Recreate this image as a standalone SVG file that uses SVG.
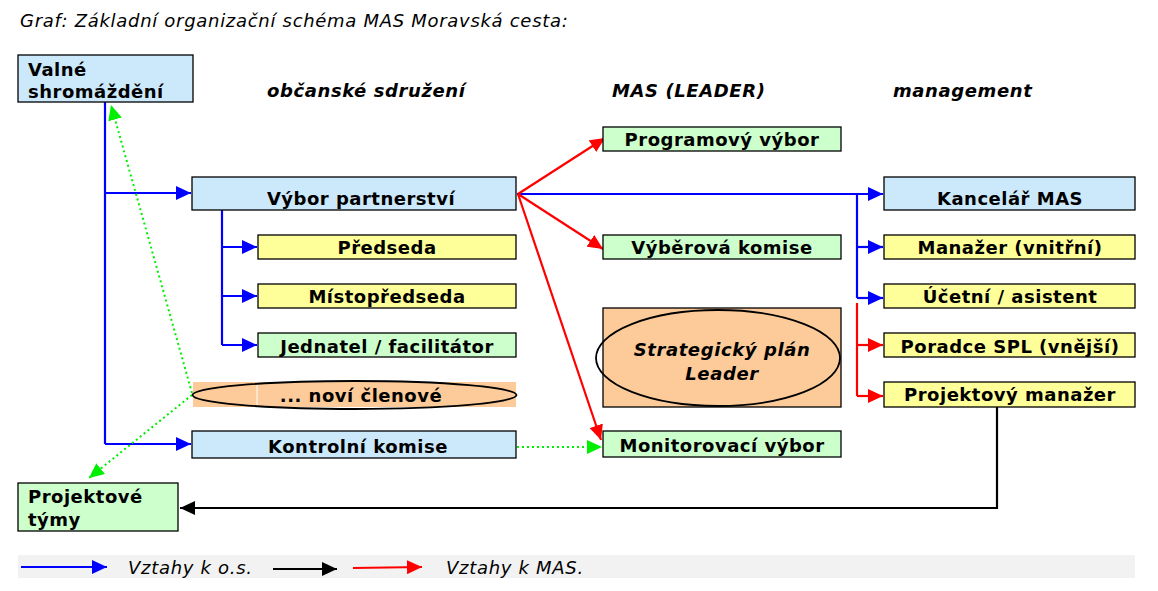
<svg xmlns="http://www.w3.org/2000/svg" width="1158" height="591" viewBox="0 0 1158 591">
<style>
.box{stroke:#000;stroke-width:1.3}
.blue{fill:#CCE9FC}
.yel{fill:#FFFF99}
.grn{fill:#CCFFCC}
.org{fill:#FCCB99}
.lbl{font-family:"DejaVu Sans",Verdana,sans-serif;font-weight:bold;font-size:18px;letter-spacing:0.5px;fill:#000;text-anchor:middle}
.lft{text-anchor:start}
.hdr{font-family:"DejaVu Sans",Verdana,sans-serif;font-weight:bold;font-style:italic;font-size:18px;letter-spacing:0.6px;fill:#000}
.it{font-family:"DejaVu Sans",Verdana,sans-serif;font-style:italic;font-size:18px;letter-spacing:0.7px;fill:#000}
.cb{fill:none;stroke:#0000FF;stroke-width:2.2}
.cr{fill:none;stroke:#FF0000;stroke-width:2.2}
.ck{fill:none;stroke:#000;stroke-width:2.2}
.cg{fill:none;stroke:#00EE00;stroke-width:2;stroke-dasharray:2 3}
</style>
<defs>
<marker id="ab" markerUnits="userSpaceOnUse" markerWidth="16" markerHeight="14" refX="15" refY="7" orient="auto"><path d="M0,0 L15,7 L0,14 z" fill="#0000FF"/></marker>
<marker id="ar" markerUnits="userSpaceOnUse" markerWidth="16" markerHeight="14" refX="15" refY="7" orient="auto"><path d="M0,0 L15,7 L0,14 z" fill="#FF0000"/></marker>
<marker id="ak" markerUnits="userSpaceOnUse" markerWidth="16" markerHeight="14" refX="15" refY="7" orient="auto"><path d="M0,0 L15,7 L0,14 z" fill="#000"/></marker>
<marker id="ag" markerUnits="userSpaceOnUse" markerWidth="16" markerHeight="14" refX="15" refY="7" orient="auto"><path d="M0,0 L15,7 L0,14 z" fill="#00EE00"/></marker>
</defs>
<rect width="1158" height="591" fill="#fff"/>
<text class="it" x="20" y="27">Graf: Základní organizační schéma MAS Moravská cesta:</text>
<text class="hdr" x="267" y="97">občanské sdružení</text>
<text class="hdr" x="612" y="97">MAS (LEADER)</text>
<text class="hdr" x="893" y="97">management</text>

<g id="connectors">
<path class="cb" d="M105,102 V444"/>
<path class="cb" d="M105,193 H191" marker-end="url(#ab)"/>
<path class="cb" d="M105,444 H191" marker-end="url(#ab)"/>
<path class="cb" d="M222,210 V345"/>
<path class="cb" d="M222,247 H257" marker-end="url(#ab)"/>
<path class="cb" d="M222,296 H257" marker-end="url(#ab)"/>
<path class="cb" d="M222,345 H257" marker-end="url(#ab)"/>
<path class="cb" d="M517,194 H883" marker-end="url(#ab)"/>
<path class="cb" d="M857,194 V298"/>
<path class="cb" d="M857,247 H883" marker-end="url(#ab)"/>
<path class="cb" d="M857,298 H883" marker-end="url(#ab)"/>
<path class="cr" d="M857,303 V396"/>
<path class="cr" d="M857,345 H883" marker-end="url(#ar)"/>
<path class="cr" d="M857,396 H883" marker-end="url(#ar)"/>
<path class="cr" d="M518,194 L605,138" marker-end="url(#ar)"/>
<path class="cr" d="M518,194 L603,249" marker-end="url(#ar)"/>
<path class="cr" d="M518,194 L601,440" marker-end="url(#ar)"/>
<path class="cg" d="M517,447 H602" marker-end="url(#ag)"/>
<path class="cg" d="M192,393 L111,105" marker-end="url(#ag)"/>
<path class="cg" d="M192,395 L89,478" marker-end="url(#ag)"/>
<path class="ck" d="M997,407 V508 H180" marker-end="url(#ak)"/>
</g>

<g id="valne"><rect class="box blue" x="18" y="55" width="175" height="47"/><text class="lbl lft" x="28" y="76">Valné</text><text class="lbl lft" x="28" y="98">shromáždění</text></g>
<g id="vybor"><rect class="box blue" x="192" y="177" width="324" height="33"/><text class="lbl" x="361" y="205">Výbor partnerství</text></g>
<g id="predseda"><rect class="box yel" x="258" y="235" width="258" height="24"/><text class="lbl" x="387" y="254">Předseda</text></g>
<g id="mistopredseda"><rect class="box yel" x="258" y="284" width="258" height="24"/><text class="lbl" x="387" y="303">Místopředseda</text></g>
<g id="jednatel"><rect class="box grn" x="258" y="333" width="258" height="24"/><text class="lbl" x="387" y="353">Jednatel / facilitátor</text></g>
<g id="novi"><rect class="org" x="193" y="382" width="323" height="25"/><line x1="257" y1="382" x2="257" y2="407" stroke="#fff" stroke-width="1"/><ellipse cx="354.5" cy="395" rx="162" ry="14" fill="none" stroke="#000" stroke-width="1.8"/><text class="lbl" x="361" y="402">... noví členové</text></g>
<g id="kontrolni"><rect class="box blue" x="192" y="431" width="324" height="27"/><text class="lbl" x="358" y="453">Kontrolní komise</text></g>
<g id="projtymy"><rect class="box grn" x="18" y="483" width="160" height="48"/><text class="lbl lft" x="28" y="503">Projektové</text><text class="lbl lft" x="28" y="526">týmy</text></g>

<g id="programovy"><rect class="box grn" x="603" y="127" width="238" height="24"/><text class="lbl" x="722" y="146">Programový výbor</text></g>
<g id="vyberova"><rect class="box grn" x="603" y="235" width="238" height="24"/><text class="lbl" x="722" y="254">Výběrová komise</text></g>
<g id="spl"><rect class="box org" x="603" y="308" width="238" height="99"/><ellipse cx="718" cy="358" rx="122" ry="48" fill="none" stroke="#000" stroke-width="1.8"/><text class="hdr" x="722" y="356" text-anchor="middle">Strategický plán</text><text class="hdr" x="722" y="380" text-anchor="middle">Leader</text></g>
<g id="monitorovaci"><rect class="box grn" x="603" y="431" width="238" height="26"/><text class="lbl" x="722" y="452">Monitorovací výbor</text></g>

<g id="kancelar"><rect class="box blue" x="884" y="177" width="251" height="33"/><text class="lbl" x="1010" y="205">Kancelář MAS</text></g>
<g id="manazer"><rect class="box yel" x="884" y="235" width="251" height="24"/><text class="lbl" x="1010" y="254">Manažer (vnitřní)</text></g>
<g id="ucetni"><rect class="box yel" x="884" y="284" width="251" height="24"/><text class="lbl" x="1010" y="303">Účetní / asistent</text></g>
<g id="poradce"><rect class="box yel" x="884" y="333" width="251" height="24"/><text class="lbl" x="1010" y="353">Poradce SPL (vnější)</text></g>
<g id="projmanazer"><rect class="box yel" x="884" y="382" width="251" height="25"/><text class="lbl" x="1010" y="401">Projektový manažer</text></g>

<g id="legend">
<rect x="18" y="555" width="1117" height="23" fill="#F2F2F2"/>
<path class="cb" d="M21,567 H107" marker-end="url(#ab)"/>
<text class="it" x="128" y="574">Vztahy k o.s.</text>
<path class="ck" d="M273,569 H337" marker-end="url(#ak)"/>
<path class="cr" d="M353,568 L422,567" marker-end="url(#ar)"/>
<text class="it" x="446" y="574">Vztahy k MAS.</text>
</g>
</svg>
